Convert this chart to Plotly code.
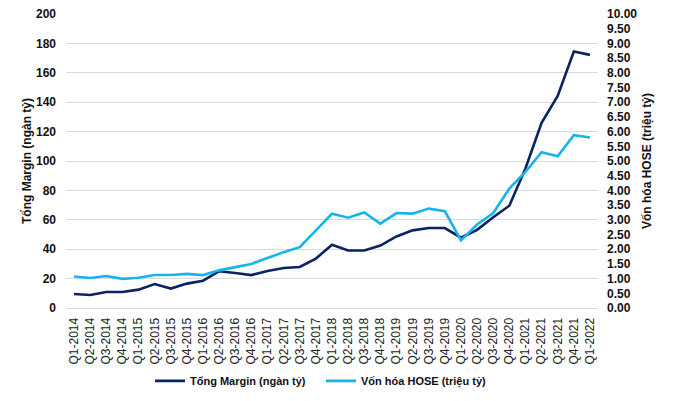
import plotly.graph_objects as go

# quarters Q1-2014 .. Q1-2022
quarters = [f"Q{q}-{y}" for y in range(2014, 2022) for q in range(1, 5)] + ["Q1-2022"]

# Tong Margin (ngan ty) - left axis
margin = [9.5, 8.8, 10.9, 10.9, 12.5, 16.3, 13.2, 16.6,
          18.6, 25.0, 23.8, 22.4, 25.2, 27.2, 27.9, 33.6,
          43.0, 39.1, 39.1, 42.5, 48.7, 52.8, 54.4, 54.4,
          47.8, 53.2, 61.7, 69.6, 94.9, 126.0, 144.3, 174.5,
          172.2]

# Von hoa HOSE (trieu ty) - right axis
cap = [1.07, 1.02, 1.09, 0.99, 1.03, 1.12, 1.12, 1.16,
       1.12, 1.28, 1.39, 1.50, 1.70, 1.90, 2.07, 2.64,
       3.21, 3.07, 3.25, 2.87, 3.23, 3.21, 3.38, 3.29,
       2.30, 2.84, 3.23, 4.06, 4.63, 5.30, 5.16, 5.88,
       5.80]

# page has an 8px body offset, so margins are set to land the plot at 66..598 x 14..308
W, H = 676, 401
ML, MR, MT, MB = 58, 86, 6, 101
pw = W - ML - MR

fig = go.Figure()
fig.add_trace(go.Scatter(x=quarters, y=margin, mode="lines", name="Tổng Margin (ngàn tỷ)",
                         line=dict(color="#0B2263", width=2.6)))
fig.add_trace(go.Scatter(x=quarters, y=cap, mode="lines", name="Vốn hóa HOSE (triệu tỷ)",
                         line=dict(color="#16B4EE", width=2.6), yaxis="y2"))

bold = dict(family="Liberation Sans", size=12, color="#111111", weight="bold")
title_font = dict(family="Liberation Sans", size=12, color="#111111", weight="bold")

fig.update_layout(
    width=W, height=H,
    margin=dict(l=ML, r=MR, t=MT, b=MB, autoexpand=False),
    plot_bgcolor="white", paper_bgcolor="white",
    font=dict(family="Liberation Sans", color="#111111"),
    showlegend=True,
    legend=dict(orientation="h", x=(142 - ML) / pw, xanchor="left",
                y=-0.248, yanchor="middle",
                font=dict(family="Liberation Sans", size=11, color="#111111", weight="bold"),
                entrywidth=126, entrywidthmode="pixels", tracegroupgap=0),
    xaxis=dict(type="category", tickangle=-90, showgrid=False, showline=True,
               linecolor="#D9D9D9", linewidth=1, ticks="", automargin=False,
               ticklabelstandoff=4,
               tickfont=dict(family="Liberation Sans", size=12, color="#222222"),
               range=[-0.5, len(quarters) - 0.5]),
    yaxis=dict(range=[0, 200], dtick=20, showgrid=True, gridcolor="#D9D9D9", gridwidth=1,
               zeroline=False, tickfont=bold, ticks="", automargin=False,
               ticklabelstandoff=9, ticklabeloverflow="allow"),
    yaxis2=dict(range=[0, 10], dtick=0.5, tickformat=".2f", overlaying="y", side="right",
                showgrid=False, zeroline=False, tickfont=bold, automargin=False,
                ticklabelstandoff=8, ticklabeloverflow="allow",
                title=dict(text="Vốn hóa HOSE (triệu tỷ)", standoff=6, font=title_font)),
)

# left axis title placed as an annotation for exact position
fig.add_annotation(text="Tổng Margin (ngàn tỷ)", textangle=-90, showarrow=False,
                   xref="paper", yref="paper", x=(19 - ML) / pw, y=0.5,
                   xanchor="center", yanchor="middle", font=title_font)

fig.write_html("out.html")
